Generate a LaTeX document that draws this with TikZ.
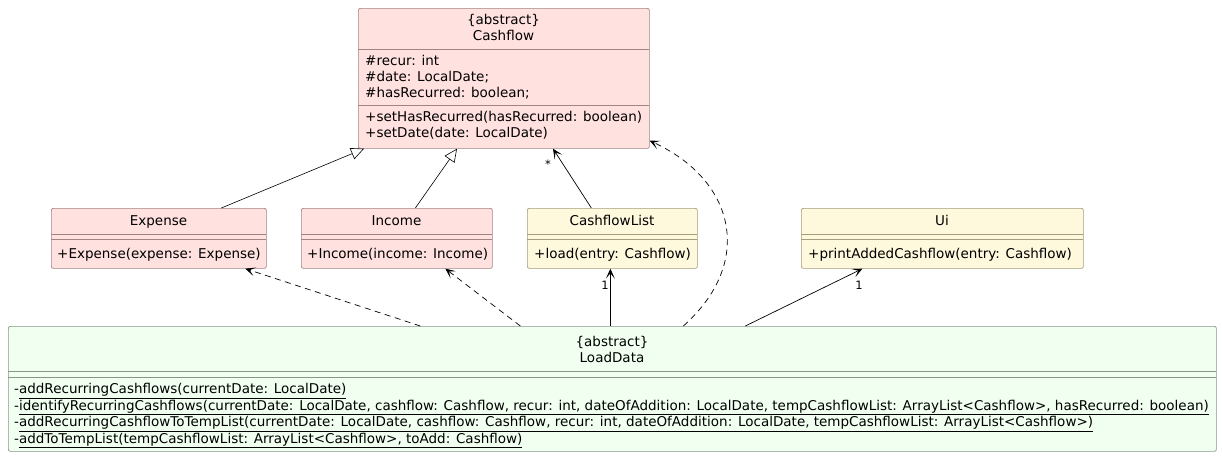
\documentclass[tikz,border=0pt]{standalone}
\usepackage{fontspec}
\setmainfont{DejaVu Sans}
\usetikzlibrary{arrows.meta,positioning}

\definecolor{pinkfill}{RGB}{255,225,224}
\definecolor{pinkline}{RGB}{160,132,132}
\definecolor{yelfill}{RGB}{254,248,220}
\definecolor{yelline}{RGB}{165,155,125}
\definecolor{grnfill}{RGB}{241,255,241}
\definecolor{grnline}{RGB}{135,150,135}

\tikzset{
	clsbox/.style={draw=#1, rounded corners=2pt, line width=0.7pt, anchor=north west, inner sep=0pt},
	sepline/.style={draw=#1, line width=0.7pt},
	member/.style={anchor=west, inner sep=0pt, text height=9.5pt, text depth=2.5pt},
	title/.style={anchor=center, inner sep=0pt, text height=9.5pt, text depth=2.5pt},
	mult/.style={inner sep=0pt, font=\fontsize{11.5}{13}\selectfont},
	gen/.style={-{Triangle[open,length=13pt,width=12pt]}, line width=0.6pt},
	dep/.style={-{Stealth[length=10pt,width=9pt,inset=5.5pt]}, dash pattern=on 6pt off 4.5pt, line width=0.7pt},
	asc/.style={-{Stealth[length=10pt,width=9pt,inset=5.5pt]}, line width=0.7pt}
}

\begin{document}
\begin{tikzpicture}[x=1pt,y=-1pt,font=\fontsize{13.5}{16}\selectfont]
\useasboundingbox (0,0) rectangle (1222,458);

% Cashflow
\node[clsbox=pinkline, fill=pinkfill, minimum width=291pt, minimum height=140pt] (cf) at (358,8) {};
\draw[sepline=pinkline] (358,49) -- (649,49);
\draw[sepline=pinkline] (358,105) -- (649,105);
\node[title] (cft1) at (503.5,21) {\{abstract\}};
\node[title] (cft2) at (503.5,37) {Cashflow};
\node[member] (cfa1) at (365,62) {\#recur: int};
\node[member] (cfa2) at (365,78) {\#date: LocalDate;};
\node[member] (cfa3) at (365,94) {\#hasRecurred: boolean;};
\node[member] (cfm1) at (365,118) {+setHasRecurred(hasRecurred: boolean)};
\node[member] (cfm2) at (365,134) {+setDate(date: LocalDate)};

% Expense
\node[clsbox=pinkline, fill=pinkfill, minimum width=215pt, minimum height=60pt] (exp) at (51,208) {};
\draw[sepline=pinkline] (51,234) -- (266,234);
\draw[sepline=pinkline] (51,239) -- (266,239);
\node[title] (expt) at (158.5,222) {Expense};
\node[member] (expm) at (57,255) {+Expense(expense: Expense)};

% Income
\node[clsbox=pinkline, fill=pinkfill, minimum width=191pt, minimum height=60pt] (inc) at (301,208) {};
\draw[sepline=pinkline] (301,234) -- (492,234);
\draw[sepline=pinkline] (301,239) -- (492,239);
\node[title] (inct) at (396.5,222) {Income};
\node[member] (incm) at (307,255) {+Income(income: Income)};

% CashflowList
\node[clsbox=yelline, fill=yelfill, minimum width=170pt, minimum height=60pt] (cl) at (527,208) {};
\draw[sepline=yelline] (527,234) -- (697,234);
\draw[sepline=yelline] (527,239) -- (697,239);
\node[title] (clt) at (612,222) {CashflowList};
\node[member] (clm) at (534,255) {+load(entry: Cashflow)};

% Ui
\node[clsbox=yelline, fill=yelfill, minimum width=282pt, minimum height=60pt] (ui) at (801,208) {};
\draw[sepline=yelline] (801,234) -- (1083,234);
\draw[sepline=yelline] (801,239) -- (1083,239);
\node[title] (uit) at (942,222) {Ui};
\node[member] (uim) at (808,255) {+printAddedCashflow(entry: Cashflow)};

% LoadData
\node[clsbox=grnline, fill=grnfill, minimum width=1208pt, minimum height=125pt] (ld) at (8,326) {};
\draw[sepline=grnline] (8,371) -- (1216,371);
\draw[sepline=grnline] (8,377) -- (1216,377);
\node[title] (ldt1) at (612,343) {\{abstract\}};
\node[title] (ldt2) at (612,359) {LoadData};
\foreach \t [count=\i] in {%
	{addRecurringCashflows(currentDate: LocalDate)},
	{identifyRecurringCashflows(currentDate: LocalDate, cashflow: Cashflow, recur: int, dateOfAddition: LocalDate, tempCashflowList: ArrayList<Cashflow>, hasRecurred: boolean)},
	{addRecurringCashflowToTempList(currentDate: LocalDate, cashflow: Cashflow, recur: int, dateOfAddition: LocalDate, tempCashflowList: ArrayList<Cashflow>)},
	{addToTempList(tempCashflowList: ArrayList<Cashflow>, toAdd: Cashflow)}}
	\node[member] (ldm\i) at (14,373.5+16.6*\i) {-\underline{\t}};

% connectors
\draw[gen] ([xshift=62.5pt]exp.north) -- ([xshift=6pt]cf.south west);
\draw[gen] ([xshift=18.5pt]inc.north) -- ([xshift=99pt]cf.south west);
\draw[asc] ([xshift=-21pt]cl.north) -- ([xshift=195pt]cf.south west);
\node[mult] (mstar) at (548,164) {*};
\draw[dep] ([xshift=71pt]ld.north) .. controls (755,262) and (735,180) .. ([yshift=8pt]cf.south east);
\draw[dep] ([xshift=-192pt]ld.north) -- ([xshift=86.5pt]exp.south);
\draw[dep] ([xshift=-92pt]ld.north) -- ([xshift=48.5pt]inc.south);
\draw[asc] ([xshift=-2pt]ld.north) -- ([xshift=-2pt]cl.south);
\node[mult] (mcl) at (605,285) {1};
\draw[asc] ([xshift=133pt]ld.north) -- ([xshift=-80pt]ui.south);
\node[mult] (mui) at (859,285) {1};
\end{tikzpicture}
\end{document}
